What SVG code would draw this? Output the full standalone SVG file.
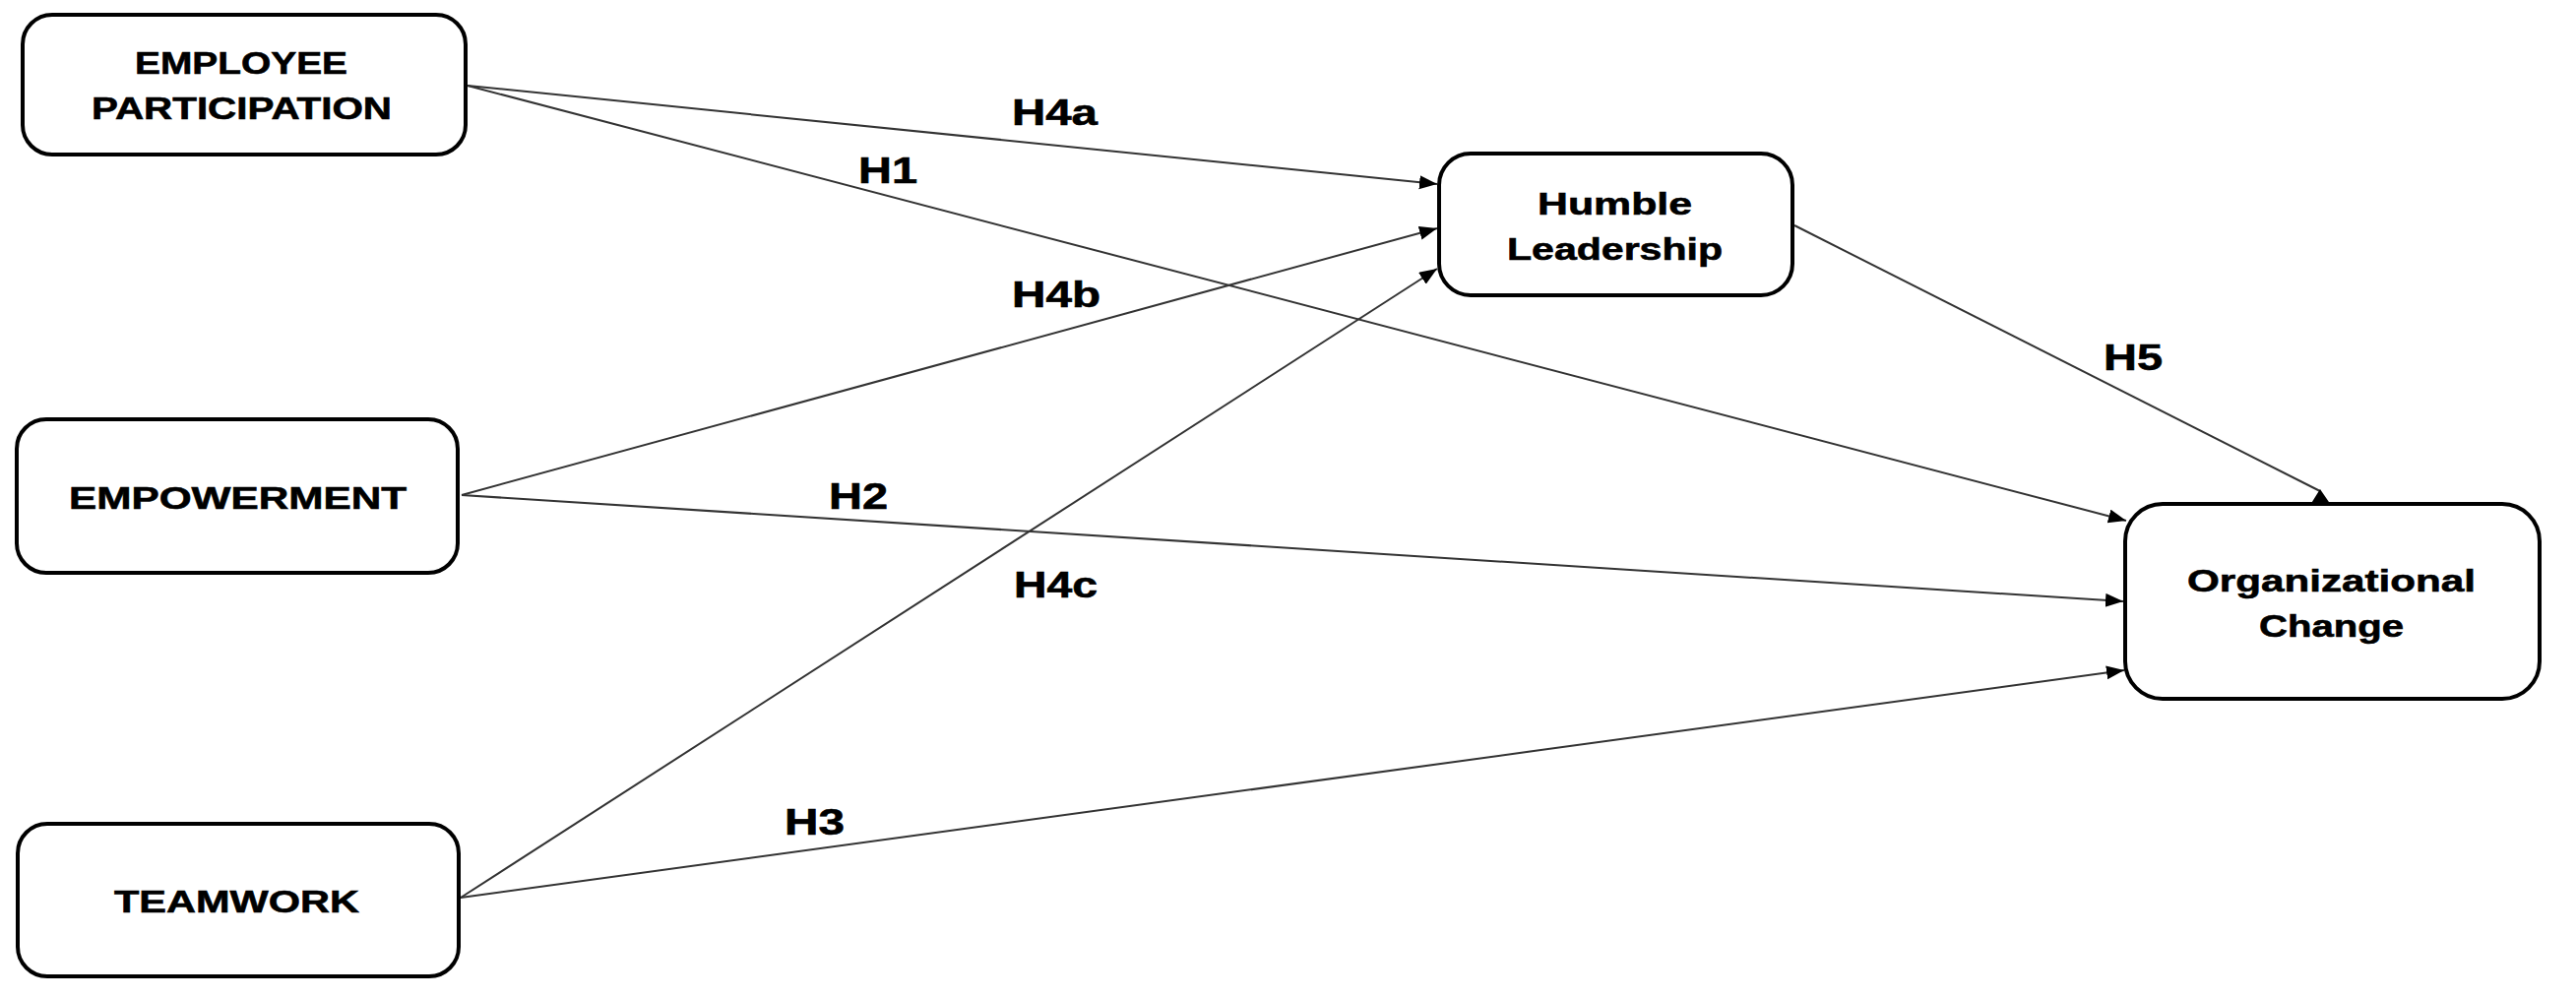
<svg xmlns="http://www.w3.org/2000/svg" width="2617" height="1014" viewBox="0 0 2617 1014">
<style>
.box{fill:#fff;stroke:#000;stroke-width:4}
.nt{font-family:"Liberation Sans",Arial,sans-serif;font-weight:bold;font-size:32px;fill:#000;stroke:#000;stroke-width:0.6}
.lb{font-family:"Liberation Sans",Arial,sans-serif;font-weight:bold;font-size:37px;fill:#000;stroke:#000;stroke-width:0.6}
.ln{stroke:#333;stroke-width:2;fill:none}
</style>
<defs>
<marker id="arr" markerUnits="userSpaceOnUse" markerWidth="20" markerHeight="16" refX="18" refY="7" orient="auto">
<path d="M0,0 L18,7 L0,14 Z" fill="#000"/>
</marker>
</defs>
<rect width="2617" height="1014" fill="#fff"/>
<g id="connectors">
<line class="ln" x1="475" y1="87" x2="1460" y2="187" marker-end="url(#arr)"/>
<line class="ln" x1="475" y1="87" x2="2160" y2="529" marker-end="url(#arr)"/>
<line class="ln" x1="469" y1="503" x2="1460" y2="232" marker-end="url(#arr)"/>
<line class="ln" x1="469" y1="503" x2="2157" y2="611" marker-end="url(#arr)"/>
<line class="ln" x1="468" y1="912" x2="1460" y2="273" marker-end="url(#arr)"/>
<line class="ln" x1="468" y1="912" x2="2158" y2="681" marker-end="url(#arr)"/>
<line class="ln" x1="1823" y1="229" x2="2357" y2="499"/>
<polygon points="2357,497 2347,513 2368,513" fill="#000"/>
<text class="lb" x="1028" y="127" textLength="87" lengthAdjust="spacingAndGlyphs">H4a</text>
<text class="lb" x="872" y="186" textLength="60" lengthAdjust="spacingAndGlyphs">H1</text>
<text class="lb" x="1028" y="312" textLength="90" lengthAdjust="spacingAndGlyphs">H4b</text>
<text class="lb" x="842" y="517" textLength="60" lengthAdjust="spacingAndGlyphs">H2</text>
<text class="lb" x="1030" y="607" textLength="85" lengthAdjust="spacingAndGlyphs">H4c</text>
<text class="lb" x="797" y="848" textLength="61" lengthAdjust="spacingAndGlyphs">H3</text>
<text class="lb" x="2137" y="376" textLength="60" lengthAdjust="spacingAndGlyphs">H5</text>
</g>
<g id="employee-participation">
<rect class="box" x="23" y="15" width="450" height="142" rx="30"/>
<text class="nt" x="137" y="75" textLength="216" lengthAdjust="spacingAndGlyphs">EMPLOYEE</text>
<text class="nt" x="93" y="121" textLength="305" lengthAdjust="spacingAndGlyphs">PARTICIPATION</text>
</g>
<g id="empowerment">
<rect class="box" x="17" y="426" width="448" height="156" rx="30"/>
<text class="nt" x="70" y="517" textLength="343" lengthAdjust="spacingAndGlyphs">EMPOWERMENT</text>
</g>
<g id="teamwork">
<rect class="box" x="18" y="837" width="448" height="155" rx="30"/>
<text class="nt" x="116" y="927" textLength="249" lengthAdjust="spacingAndGlyphs">TEAMWORK</text>
</g>
<g id="humble-leadership">
<rect class="box" x="1462" y="156" width="359" height="144" rx="32"/>
<text class="nt" x="1562" y="218" textLength="157" lengthAdjust="spacingAndGlyphs">Humble</text>
<text class="nt" x="1531" y="264" textLength="219" lengthAdjust="spacingAndGlyphs">Leadership</text>
</g>
<g id="organizational-change">
<rect class="box" x="2159" y="512" width="421" height="198" rx="38"/>
<text class="nt" x="2222" y="601" textLength="293" lengthAdjust="spacingAndGlyphs">Organizational</text>
<text class="nt" x="2295" y="647" textLength="147" lengthAdjust="spacingAndGlyphs">Change</text>
</g>
</svg>
